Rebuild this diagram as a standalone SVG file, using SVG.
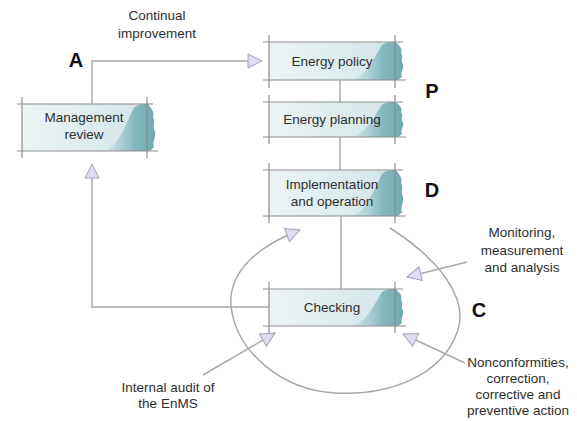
<svg xmlns="http://www.w3.org/2000/svg" xmlns:xlink="http://www.w3.org/1999/xlink" width="577" height="421" viewBox="0 0 577 421">
<style>
.lbl{font-family:"Liberation Sans",Arial,sans-serif;font-size:13.5px;fill:#2e2e2e;text-anchor:middle}
.big{font-family:"Liberation Sans",Arial,sans-serif;font-size:20px;font-weight:bold;fill:#111;text-anchor:middle}
.frame{stroke:#8c8c8c;stroke-width:1.2;fill:none}
.body{fill:url(#boxg)}
.blob{fill:url(#blobg)}
.con{stroke:#a9a9a9;stroke-width:1.5;fill:none}
</style>
<defs>
<linearGradient id="boxg" x1="0" y1="0" x2="1" y2="0">
<stop offset="0" stop-color="#edf4f5"/>
<stop offset="1" stop-color="#d2e5e8"/>
</linearGradient>
<linearGradient id="blobg" x1="0" y1="0" x2="1" y2="0">
<stop offset="0" stop-color="#c4dfe1" stop-opacity="0.5"/>
<stop offset="0.6" stop-color="#86b9bd"/>
<stop offset="1" stop-color="#6eaaaf"/>
</linearGradient>
<path id="blob" d="M-44,38 C-30,36 -22,18 -13,3 C-8,0 -3,0 1,0 C4,4 8,6 6,11 C9,15 5,18 8,22 C9,28 5,30 7,35 L3,38 Z"/>
<marker id="ah" markerUnits="userSpaceOnUse" markerWidth="16" markerHeight="16" refX="14" refY="7" orient="auto" viewBox="-1 -1 16 16">
<path d="M0,0 L14,7 L0,14 Z" fill="#dedcf0" stroke="#a4a2bc" stroke-width="1"/>
</marker>
</defs>
<rect width="577" height="421" fill="#ffffff"/>

<g id="connectors">
<path class="con" d="M92,104 V61 H262" marker-end="url(#ah)"/>
<path class="con" d="M269,307 H92 V164" marker-end="url(#ah)"/>
<path class="con" d="M340,80 V102"/>
<path class="con" d="M340,137 V170"/>
<path class="con" d="M341,216 V289"/>
<path class="con" d="M390,228 C440,260 468,298 458,330 C442,378 385,396 335,393 C282,390 236,352 231,306 C228,272 258,246 300,230" marker-end="url(#ah)"/>
<path class="con" d="M467,262 L407,277" marker-end="url(#ah)"/>
<path class="con" d="M465,363 L403,334" marker-end="url(#ah)"/>
<path class="con" d="M203,375 L275,333" marker-end="url(#ah)"/>
</g>

<g id="management-review">
<rect class="body" x="22" y="104" width="125" height="47"/>
<use xlink:href="#blob" class="blob" transform="translate(147,104) scale(1,1.237)"/>
<path class="frame" d="M17,104 H153 M17,151 H158 M22,97 V158 M147,97 V158"/>
<text class="lbl" x="84" y="122">Management</text>
<text class="lbl" x="84" y="139">review</text>
</g>

<g id="energy-policy">
<rect class="body" x="269" y="42" width="126" height="38"/>
<use xlink:href="#blob" class="blob" transform="translate(395,42)"/>
<path class="frame" d="M263,42 H403 M263,80 H406 M269,35 V88 M395,35 V88"/>
<text class="lbl" x="332" y="66">Energy policy</text>
</g>

<g id="energy-planning">
<rect class="body" x="269" y="102" width="126" height="35"/>
<use xlink:href="#blob" class="blob" transform="translate(395,102) scale(1,0.921)"/>
<path class="frame" d="M263,102 H403 M263,137 H406 M269,95 V144 M395,95 V144"/>
<text class="lbl" x="332" y="124">Energy planning</text>
</g>

<g id="implementation">
<rect class="body" x="269" y="170" width="126" height="46"/>
<use xlink:href="#blob" class="blob" transform="translate(395,170) scale(1,1.21)"/>
<path class="frame" d="M263,170 H403 M263,216 H406 M269,163 V223 M395,163 V223"/>
<text class="lbl" x="332" y="189">Implementation</text>
<text class="lbl" x="332" y="206">and operation</text>
</g>

<g id="checking">
<rect class="body" x="269" y="289" width="126" height="37"/>
<use xlink:href="#blob" class="blob" transform="translate(395,289) scale(1,0.974)"/>
<path class="frame" d="M263,289 H403 M263,326 H406 M269,282 V333 M395,282 V333"/>
<text class="lbl" x="332" y="312">Checking</text>
</g>

<g id="labels">
<text class="lbl" x="157" y="20">Continual</text>
<text class="lbl" x="157" y="38">improvement</text>
<text class="lbl" x="522" y="237">Monitoring,</text>
<text class="lbl" x="522" y="255">measurement</text>
<text class="lbl" x="522" y="272">and analysis</text>
<text class="lbl" x="518" y="367">Nonconformities,</text>
<text class="lbl" x="518" y="383">correction,</text>
<text class="lbl" x="518" y="399">corrective and</text>
<text class="lbl" x="518" y="415">preventive action</text>
<text class="lbl" x="168" y="392">Internal audit of</text>
<text class="lbl" x="168" y="408">the EnMS</text>
<text class="big" x="76" y="67">A</text>
<text class="big" x="432" y="98">P</text>
<text class="big" x="432" y="197">D</text>
<text class="big" x="479" y="317">C</text>
</g>
</svg>
